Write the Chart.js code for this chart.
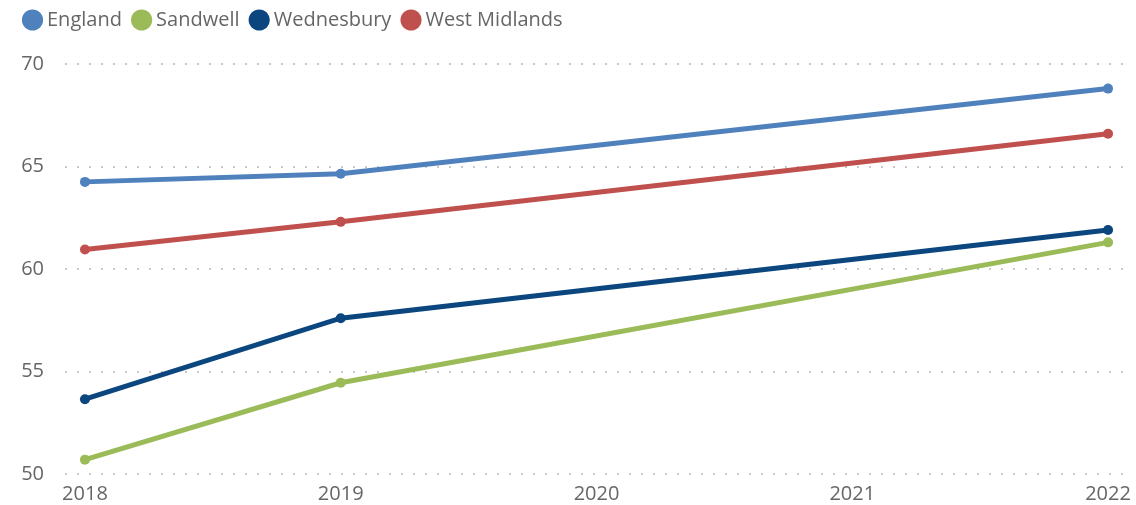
<!DOCTYPE html>
<html>
<head>
<meta charset="utf-8">
<script src="https://cdn.jsdelivr.net/npm/chart.js@4/dist/chart.umd.min.js"></script>
<style>
  html, body { margin: 0; padding: 0; background: #fff; }
  #wrap { width: 1136px; height: 505px; }
</style>
</head>
<body>
<div id="wrap"><canvas id="lineChart" width="1136" height="505"></canvas></div>
<script>
// years with data, axis tick years
var years = [2018, 2019, 2022];
var tickYears = [2018, 2019, 2020, 2021, 2022];

var england = [64.25, 64.65, 68.8];
var sandwell = [50.7, 54.45, 61.3];
var wednesbury = [53.65, 57.6, 61.9];
var westMidlands = [60.95, 62.3, 66.6];

function toPoints(values) {
    return values.map(function (v, i) { return { x: years[i], y: v }; });
}

function series(label, color, values) {
    return {
        label: label,
        data: toPoints(values),
        borderColor: color,
        backgroundColor: color,
        borderWidth: 5,
        pointRadius: 5,
        pointHoverRadius: 5,
        pointBorderWidth: 0,
        tension: 0
    };
}

var textColor = '#666666';
Chart.defaults.font.family = '"Open Sans", "Noto Sans", sans-serif';

// fixed legend band so the plot starts where the reference does
var legendHeight = {
    id: 'legendHeight',
    beforeInit: function (chart) {
        var fit = chart.legend.fit;
        chart.legend.fit = function () {
            fit.bind(chart.legend)();
            this.height = 64;
        };
    }
};

var ctx = document.getElementById('lineChart').getContext('2d');
var lineChart = new Chart(ctx, {
    type: 'line',
    data: {
        datasets: [
            series('England', '#4f81bd', england),
            series('Sandwell', '#9bbb59', sandwell),
            series('Wednesbury', '#0c467f', wednesbury),
            series('West Midlands', '#c0504d', westMidlands)
        ]
    },
    options: {
        responsive: false,
        animation: false,
        layout: { padding: { left: 18, right: 8, top: 0, bottom: 0 } },
        plugins: {
            legend: {
                position: 'top',
                align: 'start',
                labels: {
                    usePointStyle: true,
                    pointStyle: 'circle',
                    boxWidth: 9,
                    boxHeight: 15,
                    padding: 10,
                    color: textColor,
                    font: { size: 20 },
                    generateLabels: function (chart) {
                        var items = Chart.defaults.plugins.legend.labels.generateLabels(chart);
                        items.forEach(function (it) { it.text = it.text + ' '; });
                        return items;
                    }
                }
            },
            tooltip: { enabled: false }
        },
        scales: {
            x: {
                type: 'linear',
                min: 2017.922,
                max: 2022.078,
                afterBuildTicks: function (scale) {
                    scale.ticks = tickYears.map(function (v) { return { value: v }; });
                },
                afterFit: function (scale) {
                    scale.height = 31;
                    scale.paddingLeft = 0;
                    scale.paddingRight = 0;
                },
                grid: { display: false, drawTicks: false },
                border: { display: false },
                ticks: {
                    color: textColor,
                    font: { size: 20 },
                    padding: 8,
                    maxRotation: 0,
                    callback: function (v) { return String(v); }
                }
            },
            y: {
                min: 50,
                max: 70,
                afterFit: function (scale) {
                    scale.width = 47;
                    scale.paddingTop = 0;
                    scale.paddingBottom = 0;
                },
                ticks: {
                    stepSize: 5,
                    color: textColor,
                    font: { size: 20 },
                    padding: 21
                },
                border: { display: false, dash: [2, 10] },
                grid: {
                    color: '#c8c8c8',
                    lineWidth: 2,
                    drawTicks: false
                }
            }
        }
    },
    plugins: [legendHeight]
});
</script>
</body>
</html>
